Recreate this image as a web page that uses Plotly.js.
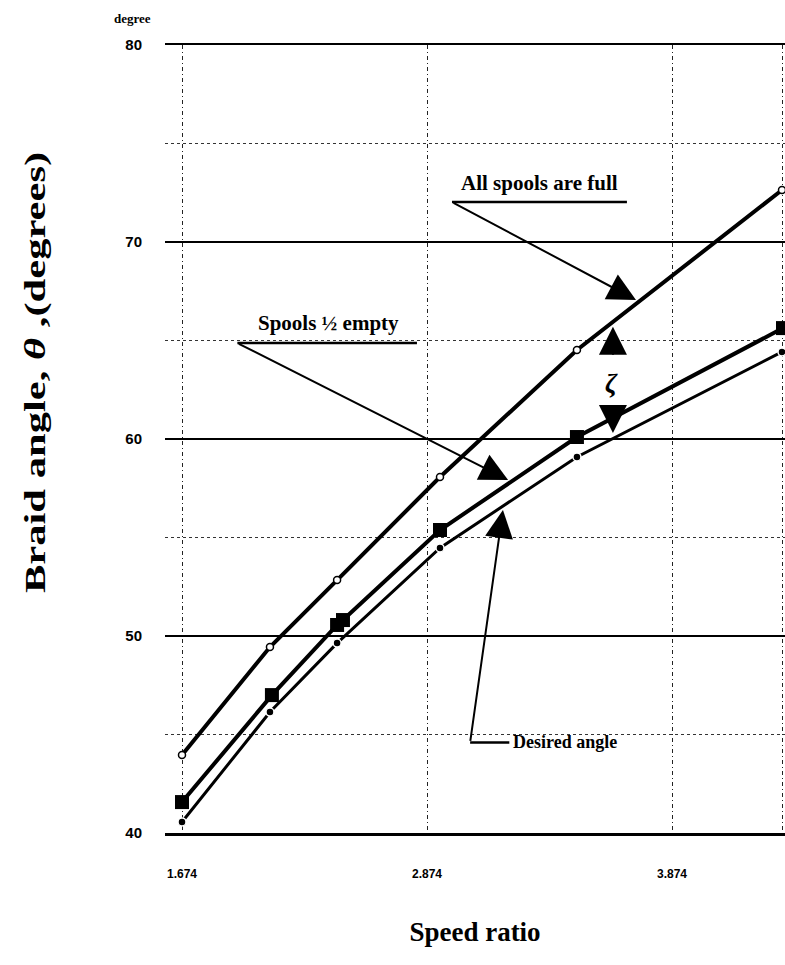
<!DOCTYPE html>
<html>
<head>
<meta charset="utf-8">
<script src="https://cdn.plot.ly/plotly-3.0.1.min.js"></script>
<style>html,body{margin:0;padding:0;background:#fff;}#chart{width:785px;height:965px;}</style>
</head>
<body>
<div id="chart"></div>
<script>
// ---- data ----
var speedFull    = [1.874, 2.233, 2.507, 2.927, 3.486, 4.323];
var angleFull    = [43.96, 49.44, 52.84, 58.07, 64.52, 72.64];
var speedHalf    = [1.874, 2.241, 2.507, 2.531, 2.927, 3.486, 4.327];
var angleHalf    = [41.57, 47.00, 50.56, 50.81, 55.38, 60.10, 65.63];
var speedDesired = [1.874, 2.233, 2.507, 2.927, 3.486, 4.323];
var angleDesired = [40.56, 46.14, 49.64, 54.47, 59.09, 64.42];
var xTickVals  = [1.874, 2.874, 3.874, 4.327];
var xTickText  = ["1.674", "2.874", "3.874", ""];
var yTickVals  = [40, 50, 60, 70, 80];

var serif = "Liberation Serif, Times New Roman, serif";
var sans  = "Liberation Sans, Arial, sans-serif";

var traces = [
  {x: speedFull, y: angleFull, mode: "lines+markers", name: "All spools are full",
   line: {color: "#000", width: 4},
   marker: {symbol: "circle", size: 7, color: "#fff", line: {color: "#000", width: 1.5}}},
  {x: speedHalf, y: angleHalf, mode: "lines+markers", name: "Spools ½ empty",
   line: {color: "#000", width: 4},
   marker: {symbol: "square", size: 14, color: "#000"}},
  {x: speedDesired, y: angleDesired, mode: "lines+markers", name: "Desired angle",
   line: {color: "#000", width: 3},
   marker: {symbol: "circle", size: 8, color: "#000", line: {color: "#fff", width: 1.5}}}
];

function arrow(x, y, ax, ay) {
  return {x: x, y: y, ax: ax, ay: ay, xref: "x", yref: "y", axref: "x", ayref: "y",
    text: "", showarrow: true, arrowhead: 2, arrowsize: 2.8, arrowwidth: 2, arrowcolor: "#000"};
}
function label(x, y, t, size, xanchor) {
  return {x: x, y: y, xref: "x", yref: "y", text: t, showarrow: false,
    xanchor: xanchor || "center", yanchor: "middle",
    font: {family: serif, size: size, color: "#000"}};
}

var annotations = [
  label(3.335, 73.0, "<b>All spools are full</b>", 21),
  arrow(3.727, 67.06, 2.976, 72.03),
  label(2.47, 65.9, "<b>Spools ½ empty</b>", 21),
  arrow(3.205, 57.92, 2.10, 64.87),
  label(3.215, 44.6, "<b>Desired angle</b>", 18, "left"),
  arrow(3.184, 56.4, 3.050, 44.6),
  {x: 3.629, y: 62.84, xref: "x", yref: "y", text: "<b><i>ζ</i></b>", showarrow: false,
   font: {family: serif, size: 27, color: "#000"}},
  arrow(3.633, 65.7, 3.633, 64.2),
  arrow(3.633, 60.3, 3.633, 61.8),
  {x: -0.085, y: 1.046, xref: "paper", yref: "paper", text: "<b>degree</b>", showarrow: false,
   font: {family: serif, size: 13, color: "#000"}},
  {x: -0.21, y: 0.585, xref: "paper", yref: "paper", text: "<b>Braid angle, <i>θ</i> ,(degrees)</b>",
   textangle: -90, showarrow: false, xanchor: "center", yanchor: "middle",
   font: {family: serif, size: 30, color: "#000"}}
];

var shapes = [
  {type: "line", xref: "x", yref: "y", x0: 2.976, x1: 3.690, y0: 72.03, y1: 72.03, line: {color: "#000", width: 2.5}},
  {type: "line", xref: "x", yref: "y", x0: 2.10, x1: 2.833, y0: 64.87, y1: 64.87, line: {color: "#000", width: 2.5}},
  {type: "line", xref: "x", yref: "y", x0: 3.050, x1: 3.21, y0: 44.6, y1: 44.6, line: {color: "#000", width: 2.5}}
];

var layout = {
  width: 785, height: 965,
  margin: {l: 165, r: 0, t: 45, b: 132},
  paper_bgcolor: "#fff", plot_bgcolor: "#fff",
  showlegend: false,
  xaxis: {
    range: [1.8046, 4.3352], tickvals: xTickVals, ticktext: xTickText,
    showgrid: true, gridcolor: "#222", gridwidth: 1, griddash: "4px,3px,1px,3px",
    zeroline: false, showline: true, mirror: true, linecolor: "#000", linewidth: 2.5,
    ticks: "", ticklabelstandoff: 28,
    tickfont: {family: sans, size: 12, color: "#000", weight: "bold"},
    title: {text: "<b>Speed ratio</b>", font: {family: serif, size: 27, color: "#000"}, standoff: 42}
  },
  yaxis: {
    range: [40, 80], tickvals: yTickVals,
    showgrid: true, gridcolor: "#000", gridwidth: 2.5,
    minor: {dtick: 5, showgrid: true, gridcolor: "#333", gridwidth: 1, griddash: "dot"},
    zeroline: false, showline: false, ticks: "", ticklabelstandoff: 22,
    tickfont: {family: sans, size: 15, color: "#000", weight: "bold"}
  },
  annotations: annotations,
  shapes: shapes
};

Plotly.newPlot("chart", traces, layout, {displayModeBar: false, staticPlot: true}).then(function () {
  // the scanned original stretches the vertical title along its length
  var g = document.querySelector('g.annotation[data-index="10"]');
  if (g) {
    g.style.transformBox = "fill-box";
    g.style.transformOrigin = "center";
    g.style.transform = "scaleY(1.42)";
  }
});
</script>
</body>
</html>
